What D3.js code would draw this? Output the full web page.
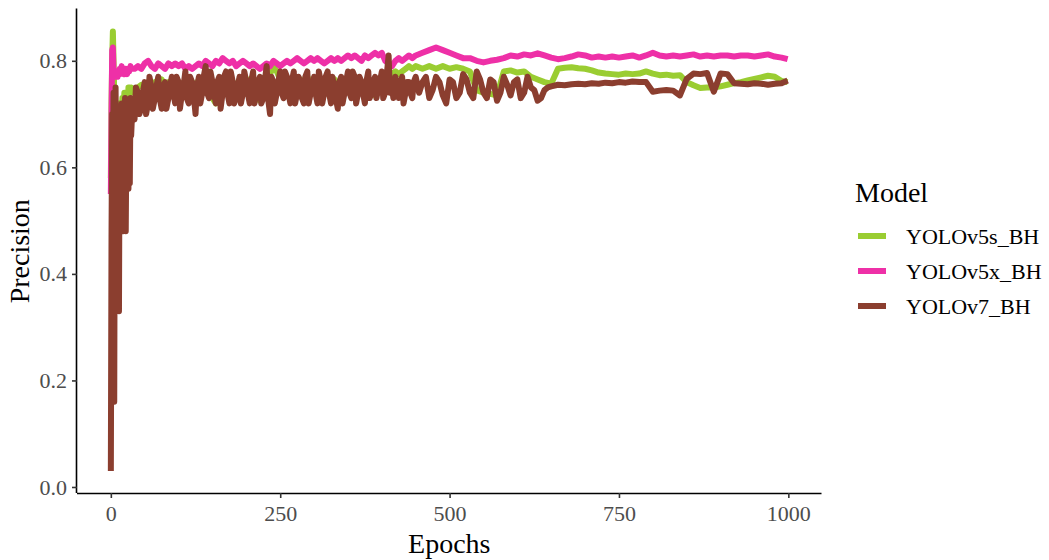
<!DOCTYPE html>
<html>
<head>
<meta charset="utf-8">
<script src="https://cdn.jsdelivr.net/npm/d3@7"></script>
<style>
  html, body { margin: 0; padding: 0; background: #fff; }
  svg { display: block; }
  text { font-family: "Liberation Serif", "Times New Roman", serif; }
</style>
</head>
<body>
<svg id="chart" width="1049" height="560"></svg>
<script>
// ---------- data ----------
const epochs = [
  0,1,2,3,4,5,6,7,8,9,
  10,11,12,13,14,15,16,17,18,19,
  20,21,22,23,24,25,26,27,28,29,
  30,
  35,40,45,50,55,60,65,70,75,80,
  85,90,95,100,105,110,115,120,125,130,
  135,140,145,150,155,160,165,170,175,180,
  185,190,195,200,205,210,215,220,225,230,
  235,240,245,250,255,260,265,270,275,280,
  285,290,295,300,305,310,315,320,325,330,
  335,340,345,350,355,360,365,370,375,380,
  385,390,395,400,405,410,415,420,425,430,
  435,440,445,450,
  460,470,480,490,500,510,520,530,540,550,
  560,570,580,590,600,610,620,630,640,650,
  660,670,680,690,700,710,720,730,740,750,
  760,770,780,790,800,810,820,830,840,850,
  860,870,880,890,900,910,920,930,940,950,
  960,970,980,990,999
];

const yolov5s = [
  0.58,0.72,0.80,0.855,0.80,0.74,0.70,0.66,0.62,0.66,
  0.70,0.67,0.72,0.70,0.68,0.72,0.70,0.73,0.68,0.72,
  0.74,0.71,0.73,0.70,0.74,0.72,0.75,0.73,0.75,0.74,
  0.75,
  0.74,0.75,0.755,0.75,0.76,0.75,0.76,0.755,0.765,0.75,
  0.76,0.755,0.765,0.76,0.75,0.765,0.755,0.76,0.75,0.765,
  0.755,0.76,0.75,0.73,0.72,0.735,0.755,0.765,0.755,0.76,
  0.75,0.765,0.76,0.755,0.765,0.75,0.73,0.725,0.745,0.76,
  0.775,0.79,0.78,0.765,0.76,0.755,0.765,0.76,0.755,0.765,
  0.76,0.77,0.76,0.765,0.755,0.765,0.76,0.77,0.76,0.765,
  0.755,0.765,0.76,0.765,0.755,0.76,0.75,0.745,0.74,0.735,
  0.745,0.735,0.75,0.76,0.765,0.77,0.775,0.78,0.775,0.78,
  0.785,0.79,0.785,0.79,
  0.785,0.79,0.785,0.79,0.785,0.788,0.785,0.78,0.745,0.74,
  0.738,0.735,0.78,0.782,0.778,0.78,0.77,0.765,0.76,0.757,
  0.785,0.787,0.788,0.786,0.785,0.782,0.778,0.776,0.775,0.774,
  0.776,0.775,0.776,0.78,0.776,0.773,0.774,0.772,0.773,0.76,
  0.754,0.749,0.75,0.75,0.752,0.755,0.758,0.76,0.763,0.766,
  0.769,0.772,0.77,0.762,0.76
];

const yolov5x = [
  0.55,0.70,0.82,0.825,0.78,0.77,0.775,0.77,0.78,0.775,
  0.77,0.78,0.775,0.785,0.775,0.78,0.79,0.785,0.78,0.775,
  0.78,0.775,0.785,0.78,0.775,0.78,0.785,0.78,0.785,0.79,
  0.785,
  0.785,0.79,0.785,0.795,0.80,0.79,0.785,0.795,0.79,0.785,
  0.795,0.79,0.795,0.79,0.795,0.785,0.79,0.785,0.79,0.795,
  0.79,0.80,0.795,0.79,0.80,0.795,0.805,0.80,0.795,0.80,
  0.79,0.795,0.80,0.795,0.79,0.795,0.79,0.785,0.79,0.795,
  0.79,0.80,0.795,0.79,0.795,0.80,0.795,0.80,0.805,0.80,
  0.795,0.80,0.805,0.80,0.805,0.80,0.795,0.80,0.805,0.80,
  0.805,0.80,0.805,0.81,0.805,0.81,0.805,0.80,0.81,0.805,
  0.81,0.815,0.81,0.815,0.80,0.795,0.79,0.80,0.805,0.80,
  0.805,0.81,0.805,0.81,
  0.815,0.82,0.825,0.82,0.815,0.81,0.805,0.805,0.80,0.797,
  0.80,0.802,0.805,0.81,0.808,0.812,0.81,0.814,0.81,0.806,
  0.803,0.805,0.808,0.812,0.81,0.806,0.808,0.806,0.808,0.806,
  0.808,0.81,0.806,0.81,0.815,0.81,0.808,0.81,0.808,0.81,
  0.812,0.808,0.81,0.808,0.81,0.81,0.808,0.81,0.81,0.808,
  0.81,0.812,0.808,0.806,0.803
];

const yolov7 = [
  0.03,0.47,0.70,0.60,0.74,0.16,0.66,0.75,0.52,0.70,
  0.34,0.64,0.33,0.70,0.55,0.48,0.72,0.60,0.48,0.68,
  0.50,0.73,0.48,0.66,0.58,0.72,0.56,0.70,0.57,0.73,
  0.66,
  0.69,0.74,0.71,0.76,0.72,0.75,0.73,0.77,0.71,0.76,
  0.73,0.77,0.72,0.76,0.74,0.78,0.72,0.76,0.70,0.77,
  0.74,0.79,0.73,0.76,0.72,0.77,0.74,0.78,0.72,0.76,
  0.73,0.77,0.74,0.76,0.72,0.78,0.74,0.77,0.73,0.79,
  0.70,0.76,0.74,0.78,0.73,0.77,0.72,0.78,0.74,0.76,
  0.72,0.78,0.74,0.77,0.72,0.76,0.74,0.78,0.72,0.75,
  0.71,0.77,0.74,0.78,0.73,0.77,0.74,0.76,0.72,0.78,
  0.74,0.77,0.75,0.78,0.74,0.81,0.75,0.77,0.73,0.77,
  0.74,0.76,0.73,0.77,
  0.76,0.73,0.77,0.735,0.765,0.73,0.775,0.74,0.78,0.74,
  0.765,0.725,0.77,0.735,0.765,0.74,0.75,0.725,0.745,0.752,
  0.755,0.754,0.756,0.757,0.756,0.758,0.757,0.759,0.758,0.76,
  0.759,0.761,0.76,0.76,0.742,0.744,0.745,0.744,0.735,0.766,
  0.776,0.775,0.777,0.742,0.776,0.775,0.758,0.757,0.756,0.758,
  0.757,0.755,0.757,0.758,0.763
];

// extra YOLOv7 readings where its curve is very noisy
const yolov7ExtraEpochs = [
  32,37,42,47,52,57,62,67,72,77,
  82,87,92,97,102,107,112,117,122,127,
  132,137,142,147,152,157,162,167,172,177,
  182,187,192,197,202,207,212,217,222,227,
  232,237,242,247,252,257,262,267,272,277,
  282,287,292,297,302,307,312,317,322,327,
  332,337,342,347,352,357,362,367,372,377,
  382,387,392,397,402,407,412,417,422,427,
  432,437,442,447,
  455,465,475,485,495,505,515,525,535,545,
  555,565,575,585,595,605,615,625,635,645
];
const yolov7Extra = [
  0.72,0.75,0.70,0.74,0.70,0.77,0.71,0.75,0.73,0.75,
  0.71,0.75,0.74,0.77,0.71,0.75,0.73,0.77,0.74,0.75,
  0.72,0.77,0.74,0.78,0.74,0.76,0.71,0.77,0.74,0.78,
  0.72,0.75,0.72,0.78,0.74,0.76,0.72,0.76,0.72,0.76,
  0.73,0.77,0.72,0.76,0.74,0.78,0.74,0.76,0.72,0.77,
  0.73,0.77,0.72,0.75,0.74,0.78,0.72,0.77,0.74,0.77,
  0.73,0.76,0.72,0.76,0.74,0.78,0.72,0.77,0.74,0.76,
  0.73,0.76,0.73,0.76,0.73,0.77,0.74,0.73,0.76,0.75,
  0.72,0.76,0.74,0.76,
  0.74,0.77,0.745,0.76,0.72,0.76,0.74,0.765,0.73,0.765,
  0.73,0.76,0.74,0.755,0.76,0.73,0.77,0.745,0.73,0.75
];

const models = ["YOLOv5s_BH", "YOLOv5x_BH", "YOLOv7_BH"];
const colors = ["#9ACD32", "#EE30A7", "#8B3E2F"];
const xTicks = [0, 250, 500, 750, 1000];
const yTicks = [0.0, 0.2, 0.4, 0.6, 0.8];

function pairs(es, vs) {
  const n = Math.min(es.length, vs.length);
  return d3.range(n).map(k => ({ e: es[k], v: vs[k] }));
}
const seriesData = [
  pairs(epochs, yolov5s),
  pairs(epochs, yolov5x),
  pairs(epochs, yolov7).concat(pairs(yolov7ExtraEpochs, yolov7Extra))
    .sort((a, b) => a.e - b.e)
];

// ---------- layout ----------
const svg = d3.select("#chart");
const panel = { left: 77, right: 821.5, top: 9.5, bottom: 493 };

const x = d3.scaleLinear().domain([-49.95, 1048.95]).range([panel.left, panel.right]);
const y = d3.scaleLinear().domain([-0.0113, 0.8963]).range([panel.bottom, panel.top]);

const line = d3.line()
  .x(d => x(d.e))
  .y(d => y(d.v))
  .curve(d3.curveLinear);

const g = svg.append("g");
seriesData.forEach((data, i) => {
  g.append("path")
    .datum(data)
    .attr("fill", "none")
    .attr("stroke", colors[i])
    .attr("stroke-width", 6)
    .attr("stroke-linejoin", "round")
    .attr("stroke-linecap", "butt")
    .attr("d", line);
});

// axes
const xAxis = d3.axisBottom(x).tickValues(xTicks).tickSize(5).tickPadding(7)
  .tickFormat(d3.format("d"));
const yAxis = d3.axisLeft(y).tickValues(yTicks).tickSize(5).tickPadding(5)
  .tickFormat(d3.format(".1f"));

const gx = svg.append("g").attr("transform", `translate(0,${panel.bottom})`).call(xAxis);
const gy = svg.append("g").attr("transform", `translate(${panel.left},0)`).call(yAxis);

[gx, gy].forEach(ax => {
  ax.select(".domain").attr("stroke", "#000").attr("stroke-width", 1.6);
  ax.selectAll(".tick line").attr("stroke", "#333").attr("stroke-width", 1.6);
  ax.selectAll(".tick text")
    .attr("fill", "#4D4D4D")
    .style("font-size", "22px")
    .style("font-family", '"Liberation Serif", "Times New Roman", serif');
});
gx.select(".domain").attr("d", `M${panel.left},0.5H${panel.right}`);
gy.select(".domain").attr("d", `M-0.5,${panel.bottom}V${panel.top - 1}`);

// axis titles
svg.append("text")
  .attr("x", (panel.left + panel.right) / 2)
  .attr("y", 553)
  .attr("text-anchor", "middle")
  .style("font-size", "28px")
  .attr("fill", "#000")
  .text("Epochs");

svg.append("text")
  .attr("transform", `translate(29,${(panel.top + panel.bottom) / 2}) rotate(-90)`)
  .attr("text-anchor", "middle")
  .style("font-size", "28px")
  .attr("fill", "#000")
  .text("Precision");

// legend
const lg = svg.append("g");
lg.append("text")
  .attr("x", 855)
  .attr("y", 202)
  .style("font-size", "28px")
  .attr("fill", "#000")
  .text("Model");

models.forEach((m, i) => {
  const ky = 236 + i * 35;
  lg.append("line")
    .attr("x1", 858).attr("x2", 886)
    .attr("y1", ky).attr("y2", ky)
    .attr("stroke", colors[i])
    .attr("stroke-width", 6);
  lg.append("text")
    .attr("x", 906)
    .attr("y", ky + 8)
    .style("font-size", "22px")
    .attr("fill", "#000")
    .text(m);
});
</script>
</body>
</html>
